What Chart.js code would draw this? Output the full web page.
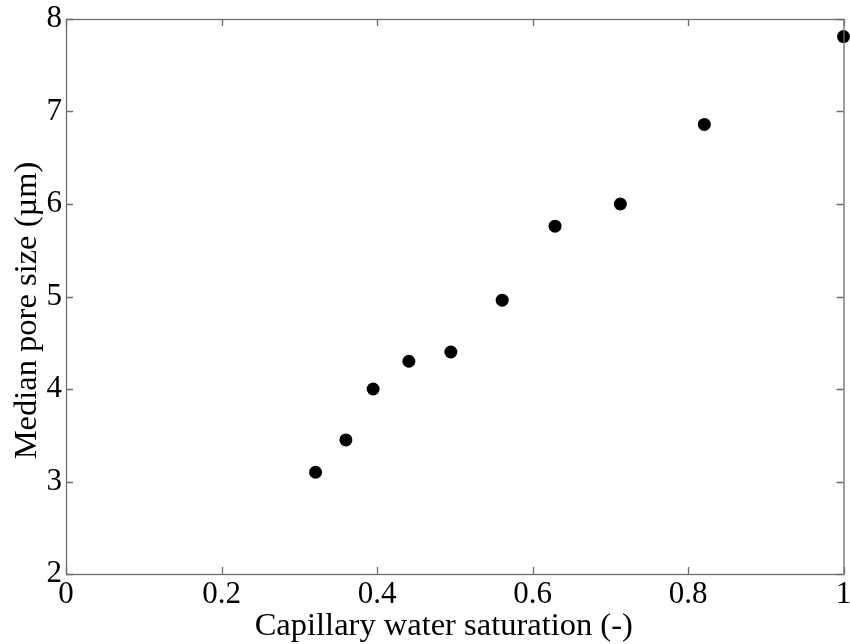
<!DOCTYPE html>
<html>
<head>
<meta charset="utf-8">
<script src="https://cdn.jsdelivr.net/npm/chart.js@4"></script>
<style>
  html, body { margin: 0; padding: 0; background: #fff; }
  #wrap { width: 850px; height: 644px; position: relative; }
</style>
</head>
<body>
<div id="wrap"><canvas id="poreChart"></canvas></div>
<script>
// --- data ---
const saturation = [0.321, 0.360, 0.395, 0.441, 0.495, 0.561, 0.629, 0.713, 0.821, 1.0];
const poreSize = [3.10, 3.45, 4.00, 4.30, 4.40, 4.96, 5.76, 6.00, 6.86, 7.81];
const xTicks = [0, 0.2, 0.4, 0.6, 0.8, 1];
const yTicks = [2, 3, 4, 5, 6, 7, 8];
const xLabel = 'Capillary water saturation (-)';
const yLabel = 'Median pore size (\u00b5m)';

const serif = "'Liberation Serif', 'Times New Roman', serif";
const axisGray = '#6e6e6e';

// box round the plot with inward ticks on all four sides (matlab style) + axis titles
const boxTicks = {
    id: 'boxTicks',
    afterDatasetsDraw(chart) {
        const { ctx, chartArea: a, scales } = chart;
        const tl = 7;
        ctx.save();
        ctx.strokeStyle = axisGray;
        ctx.lineWidth = 1.3;
        ctx.strokeRect(a.left + 0.5, a.top + 0.5, a.right - a.left, a.bottom - a.top);
        ctx.beginPath();
        xTicks.forEach(v => {
            const px = Math.round(scales.x.getPixelForValue(v)) + 0.5;
            ctx.moveTo(px, a.bottom); ctx.lineTo(px, a.bottom - tl);
            ctx.moveTo(px, a.top); ctx.lineTo(px, a.top + tl);
        });
        yTicks.forEach(v => {
            const py = Math.round(scales.y.getPixelForValue(v)) + 0.5;
            ctx.moveTo(a.left, py); ctx.lineTo(a.left + tl, py);
            ctx.moveTo(a.right, py); ctx.lineTo(a.right - tl, py);
        });
        ctx.stroke();

        // axis titles
        ctx.fillStyle = '#000';
        ctx.font = '32.5px ' + serif;
        ctx.textAlign = 'center';
        ctx.textBaseline = 'alphabetic';
        ctx.fillText(xLabel, (a.left + a.right) / 2 - 11, a.bottom + 61);
        ctx.translate(a.left - 30, (a.top + a.bottom) / 2 + 14);
        ctx.rotate(-Math.PI / 2);
        ctx.fillText(yLabel, 0, 0);
        ctx.restore();
    }
};

new Chart(document.getElementById('poreChart'), {
    type: 'scatter',
    data: {
        datasets: [{
            data: saturation.map((s, i) => ({ x: s, y: poreSize[i] })),
            backgroundColor: '#000',
            borderWidth: 0,
            pointRadius: 6.5,
            pointHoverRadius: 6.5,
            clip: false
        }]
    },
    options: {
        responsive: true,
        maintainAspectRatio: false,
        animation: false,
        layout: { padding: { top: 19, right: 4, left: 0, bottom: 0 } },
        plugins: { legend: { display: false }, tooltip: { enabled: false } },
        scales: {
            x: {
                type: 'linear',
                min: 0, max: 1,
                afterBuildTicks: s => { s.ticks = xTicks.map(v => ({ value: v })); },
                afterFit: s => { s.height = 70; s.paddingLeft = 0; s.paddingRight = 0; },
                grid: { display: false, drawTicks: false },
                border: { display: false },
                ticks: {
                    color: '#000', padding: 5, maxRotation: 0, autoSkip: false,
                    font: { family: serif, size: 31, lineHeight: 1 },
                    callback: v => String(v)
                }
            },
            y: {
                type: 'linear',
                min: 2, max: 8,
                afterBuildTicks: s => { s.ticks = yTicks.map(v => ({ value: v })); },
                afterFit: s => { s.width = 66; s.paddingTop = 0; s.paddingBottom = 0; },
                grid: { display: false, drawTicks: false },
                border: { display: false },
                ticks: {
                    color: '#000', padding: 4, autoSkip: false,
                    font: { family: serif, size: 31, lineHeight: 1 },
                    callback: v => String(v)
                }
            }
        }
    },
    plugins: [boxTicks]
});
</script>
</body>
</html>
